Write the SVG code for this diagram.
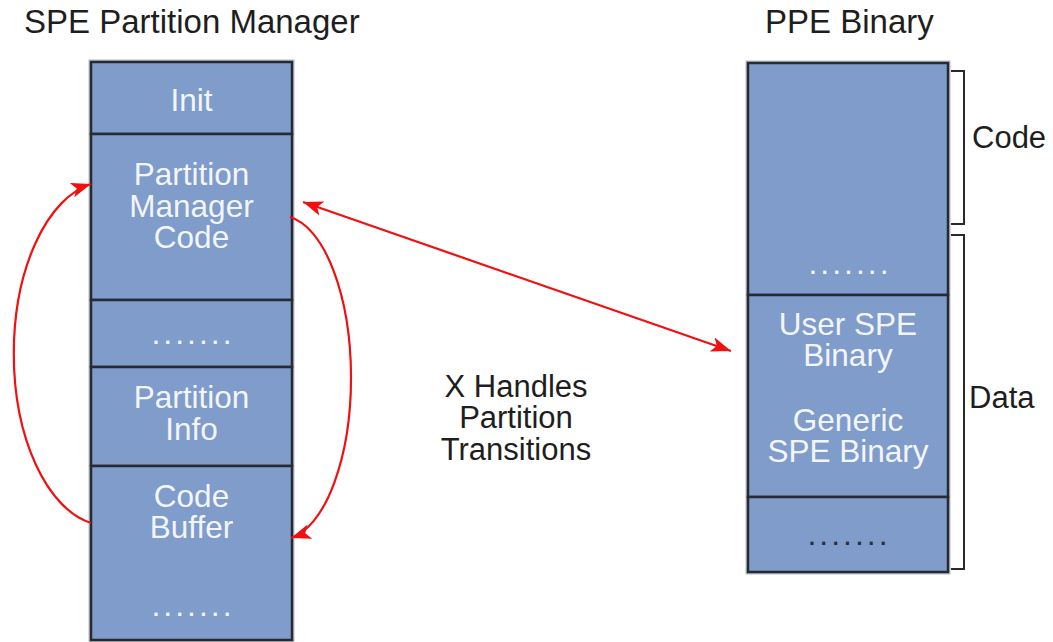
<svg xmlns="http://www.w3.org/2000/svg" width="1053" height="642" viewBox="0 0 1053 642">
  <style>
    text { font-family: "Liberation Sans", Arial, Helvetica, sans-serif; }
    .title { font-size: 33px; fill: #1e1e1e; }
    .label { font-size: 31px; fill: #1e1e1e; }
    .cell { fill: #7f9cca; stroke: #262a33; stroke-width: 2.5; }
    .halo { fill: none; stroke: #b8bcc4; stroke-width: 5; }
    .in { font-size: 31.5px; fill: #f3f5fb; text-anchor: middle; }
    .dots { font-size: 32px; fill: #f3f5fb; text-anchor: middle; letter-spacing: 3px; }
    .dots.dark { fill: #2a2f3a; }
    .brace { fill: none; stroke: #2a2a2a; stroke-width: 2; }
    .link { fill: none; stroke: #f01010; stroke-width: 2.2; }
  </style>
  <defs>
    <marker id="head" markerUnits="userSpaceOnUse" markerWidth="22" markerHeight="16" refX="20" refY="7.5" orient="auto-start-reverse">
      <path d="M0,0 L20,7.5 L0,15 L5,7.5 z" fill="#f01010"/>
    </marker>
  </defs>

  <rect width="1053" height="642" fill="#ffffff"/>

  <!-- column headings -->
  <text class="title" x="24" y="33">SPE Partition Manager</text>
  <text class="title" x="765" y="33">PPE Binary</text>

  <!-- SPE local store layout -->
  <rect class="halo" x="91" y="62" width="201" height="578"/>
  <g id="spe-init">
    <rect class="cell" x="91" y="62" width="201" height="72"/>
    <text class="in" x="191.5" y="111">Init</text>
  </g>
  <g id="spe-pm-code">
    <rect class="cell" x="91" y="134" width="201" height="166"/>
    <text class="in" x="191.5" y="185">Partition</text>
    <text class="in" x="191.5" y="217">Manager</text>
    <text class="in" x="191.5" y="248">Code</text>
  </g>
  <g id="spe-gap">
    <rect class="cell" x="91" y="300" width="201" height="67"/>
    <text class="dots" x="193" y="344">.......</text>
  </g>
  <g id="spe-partition-info">
    <rect class="cell" x="91" y="367" width="201" height="99"/>
    <text class="in" x="191.5" y="408">Partition</text>
    <text class="in" x="191.5" y="440">Info</text>
  </g>
  <g id="spe-code-buffer">
    <rect class="cell" x="91" y="466" width="201" height="174"/>
    <text class="in" x="191.5" y="507">Code</text>
    <text class="in" x="191.5" y="538">Buffer</text>
    <text class="dots" x="193" y="616">.......</text>
  </g>

  <!-- PPE binary layout -->
  <rect class="halo" x="748" y="63" width="200" height="509"/>
  <g id="ppe-code">
    <rect class="cell" x="748" y="63" width="200" height="232"/>
    <text class="dots" x="850" y="274">.......</text>
  </g>
  <g id="ppe-spe-binaries">
    <rect class="cell" x="748" y="295" width="200" height="202"/>
    <text class="in" x="848" y="335">User SPE</text>
    <text class="in" x="848" y="366">Binary</text>
    <text class="in" x="848" y="431">Generic</text>
    <text class="in" x="848" y="462">SPE Binary</text>
  </g>
  <g id="ppe-tail">
    <rect class="cell" x="748" y="497" width="200" height="75"/>
    <text class="dots dark" x="849" y="545">.......</text>
  </g>

  <!-- section brackets -->
  <g id="bracket-code">
    <path class="brace" d="M951,71 H964 V224 H951"/>
    <text class="label" x="972" y="148">Code</text>
  </g>
  <g id="bracket-data">
    <path class="brace" d="M951,235 H964 V569 H951"/>
    <text class="label" x="969" y="408">Data</text>
  </g>

  <!-- caption -->
  <g id="caption">
    <text class="label" x="516" y="397" text-anchor="middle">X Handles</text>
    <text class="label" x="516" y="428" text-anchor="middle">Partition</text>
    <text class="label" x="516" y="460" text-anchor="middle">Transitions</text>
  </g>

  <!-- connectors -->
  <g id="connectors">
    <path class="link" d="M91,523 A93,172 0 0 1 91,184" marker-end="url(#head)"/>
    <path class="link" d="M290,217 A70,162 0 0 1 291,538" marker-end="url(#head)"/>
    <path class="link" d="M303,202 L731,351" marker-start="url(#head)" marker-end="url(#head)"/>
  </g>
</svg>
